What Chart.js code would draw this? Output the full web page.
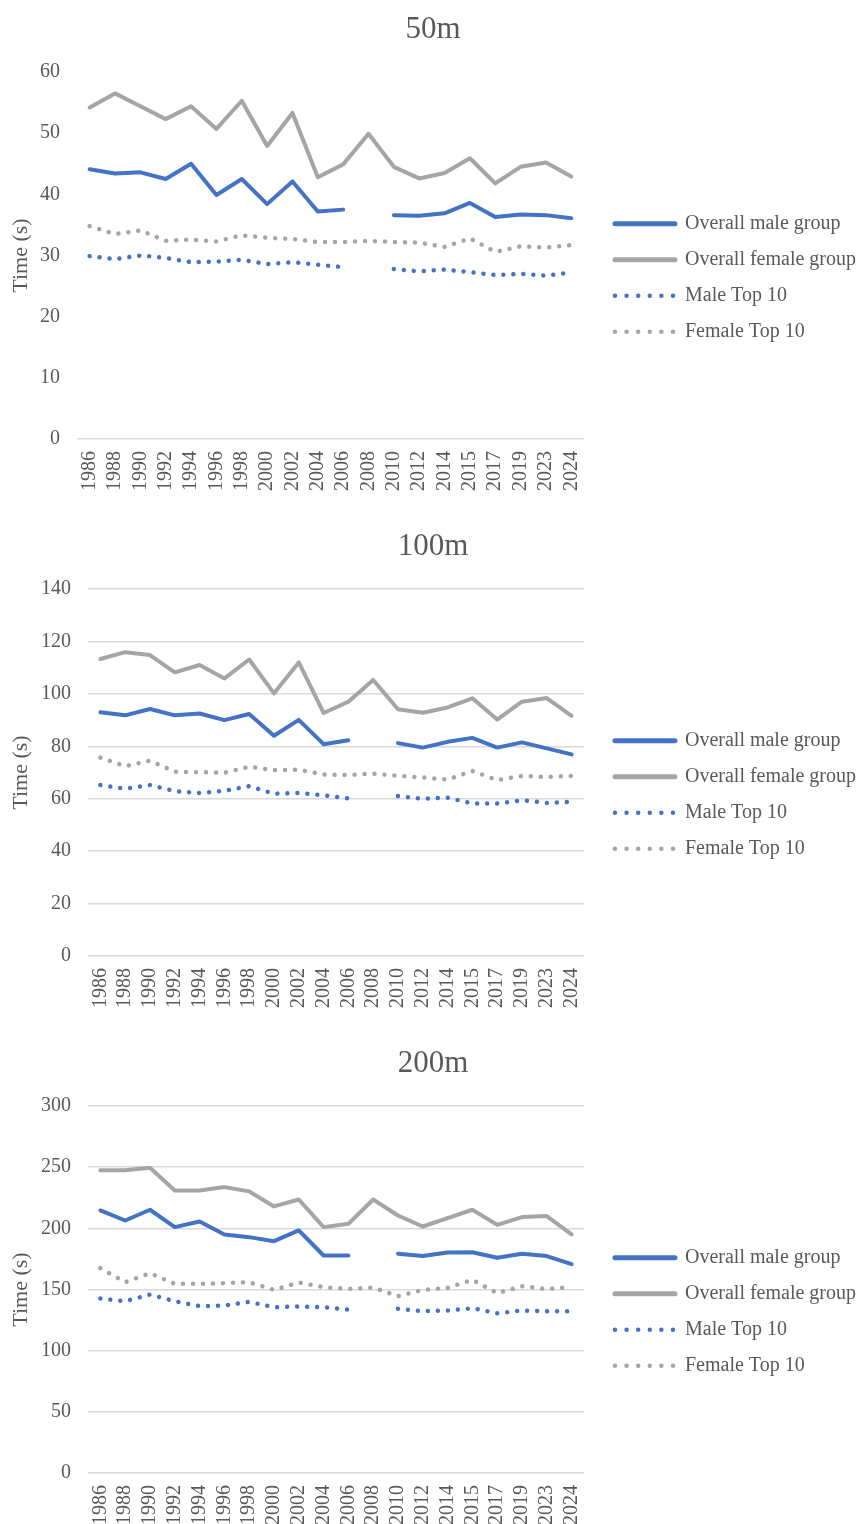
<!DOCTYPE html>
<html>
<head>
<meta charset="utf-8">
<title>Swimming times by year</title>
<script src="https://cdn.jsdelivr.net/npm/chart.js@4.4.1/dist/chart.umd.min.js"></script>
<style>
  html, body { margin: 0; padding: 0; background: #ffffff; overflow: hidden; }
  .panel { width: 864px; height: 517px; position: relative; }
  canvas { display: block; }
</style>
</head>
<body>
<div class="panel"><canvas id="chart50" width="864" height="517"></canvas></div>
<div class="panel"><canvas id="chart100" width="864" height="517"></canvas></div>
<div class="panel"><canvas id="chart200" width="864" height="517"></canvas></div>
<script>
// Competition years (x axis)
const years = ['1986', '1988', '1990', '1992', '1994', '1996', '1998', '2000', '2002', '2004',
               '2006', '2008', '2010', '2012', '2014', '2015', '2017', '2019', '2023', '2024'];

const seriesNames = ['Overall male group', 'Overall female group', 'Male Top 10', 'Female Top 10'];

// 50m times (s); no male results in 2008
const male50       = [44.1, 43.4, 43.6, 42.5, 45.0, 39.9, 42.5, 38.4, 42.1, 37.2, 37.5, null, 36.6, 36.5, 36.9, 38.6, 36.3, 36.7, 36.6, 36.1];
const female50     = [54.2, 56.5, 54.4, 52.3, 54.4, 50.7, 55.3, 47.9, 53.3, 42.8, 44.9, 49.9, 44.5, 42.6, 43.5, 45.9, 41.8, 44.5, 45.2, 42.9];
const maleTop50    = [29.9, 29.4, 30.0, 29.6, 28.9, 29.0, 29.3, 28.6, 28.9, 28.5, 28.1, null, 27.8, 27.4, 27.7, 27.3, 26.8, 27.0, 26.7, 27.2];
const femaleTop50  = [34.8, 33.5, 34.1, 32.4, 32.6, 32.3, 33.3, 32.9, 32.7, 32.2, 32.2, 32.4, 32.2, 32.1, 31.4, 32.8, 30.6, 31.5, 31.3, 31.7];

// 100m times (s)
const male100      = [93.0, 91.8, 94.2, 91.8, 92.5, 90.0, 92.3, 84.0, 90.1, 80.8, 82.3, null, 81.2, 79.5, 81.7, 83.2, 79.5, 81.5, 79.2, 76.9];
const female100    = [113.3, 115.9, 114.8, 108.2, 111.0, 105.9, 113.1, 100.2, 112.0, 92.7, 97.0, 105.3, 94.1, 92.8, 94.8, 98.3, 90.2, 97.0, 98.4, 91.6];
const maleTop100   = [65.2, 63.8, 65.2, 62.9, 62.2, 63.0, 64.8, 61.9, 62.2, 61.3, 60.1, null, 61.0, 60.0, 60.4, 58.2, 58.2, 59.4, 58.4, 58.8];
const femaleTop100 = [75.7, 72.4, 74.5, 70.3, 70.1, 69.9, 72.2, 70.9, 71.1, 69.2, 69.0, 69.6, 68.7, 68.1, 67.3, 70.6, 67.1, 68.7, 68.3, 68.7];

// 200m times (s)
const male200      = [214.6, 206.4, 215.2, 201.0, 205.6, 195.0, 192.8, 189.5, 198.3, 177.8, 177.8, null, 179.2, 177.3, 180.3, 180.5, 175.9, 179.2, 177.3, 170.7];
const female200    = [247.4, 247.4, 249.5, 231.0, 231.0, 233.7, 230.2, 217.9, 223.6, 201.0, 203.7, 223.6, 210.5, 201.5, 208.4, 215.2, 202.9, 209.2, 210.0, 195.0];
const maleTop200   = [142.6, 140.4, 145.9, 140.4, 136.4, 136.9, 139.9, 135.5, 136.1, 135.5, 133.6, null, 134.2, 132.3, 132.8, 134.7, 130.6, 132.8, 132.3, 132.3];
const femaleTop200 = [167.4, 156.0, 163.3, 154.6, 154.6, 155.2, 156.0, 149.7, 155.7, 151.9, 150.5, 151.6, 144.5, 149.7, 151.3, 157.9, 147.0, 152.7, 150.5, 151.9];

const BLUE = '#4472C4';
const GREY = '#A5A5A5';
const TEXT = '#595959';
const GRID = '#D9D9D9';
const SERIF = "'Liberation Serif', 'Times New Roman', serif";

function solid(label, data, color) {
  return {
    label, data, borderColor: color, backgroundColor: color,
    borderWidth: 4, pointRadius: 0, tension: 0, spanGaps: false,
    borderCapStyle: 'round', borderJoinStyle: 'round'
  };
}

function dotted(label, data, color) {
  return {
    label, data, borderColor: color, backgroundColor: color,
    borderWidth: 4.5, pointRadius: 0, tension: 0, spanGaps: false,
    borderDash: [0.001, 10], borderCapStyle: 'round', borderJoinStyle: 'round'
  };
}

// legend entries: a short line sample in each series' colour and dash
function legendItems(chart) {
  return chart.data.datasets.map((ds, i) => ({
    text: ds.label,
    datasetIndex: i,
    fillStyle: ds.borderColor,
    strokeStyle: ds.borderColor,
    fontColor: TEXT,
    lineWidth: ds.borderDash ? 4.5 : 5,
    lineDash: ds.borderDash ? [0.001, 11.6] : [],
    lineCap: 'round',
    pointStyle: 'line',
    hidden: false
  }));
}

function buildChart(canvasId, title, male, female, maleTop, femaleTop, yMax, yStep, fullGrid, yAxisWidth) {
  return new Chart(document.getElementById(canvasId), {
    type: 'line',
    data: {
      labels: years,
      datasets: [
        solid(seriesNames[0], male, BLUE),
        solid(seriesNames[1], female, GREY),
        dotted(seriesNames[2], maleTop, BLUE),
        dotted(seriesNames[3], femaleTop, GREY)
      ]
    },
    options: {
      responsive: false,
      animation: false,
      events: [],
      layout: { padding: { top: 0, left: 0, right: -2, bottom: 14 } },
      plugins: {
        title: {
          display: true, text: title, color: TEXT,
          font: { family: SERIF, size: 31, weight: 'normal' },
          padding: { top: 11.4, bottom: 23.4 }
        },
        legend: {
          position: 'right', align: 'center', fullSize: false, maxWidth: 320,
          title: { display: true, text: '', font: { size: 12 }, padding: { top: 30, bottom: 0 } },
          labels: {
            usePointStyle: true, pointStyle: 'line', pointStyleWidth: 60,
            padding: 16, color: TEXT,
            font: { family: SERIF, size: 20 },
            generateLabels: legendItems
          }
        },
        tooltip: { enabled: false }
      },
      scales: {
        x: {
          offset: true,
          grid: { display: false, drawTicks: false },
          border: { display: false },
          ticks: {
            autoSkip: false, minRotation: 90, maxRotation: 90, padding: 12,
            color: TEXT, font: { family: SERIF, size: 20 }
          }
        },
        y: {
          min: 0, max: yMax,
          grid: {
            drawTicks: false, lineWidth: 1.5,
            color: ctx => (fullGrid || ctx.tick.value === 0) ? GRID : 'rgba(0,0,0,0)'
          },
          border: { display: false },
          ticks: { stepSize: yStep, padding: 17, color: TEXT, font: { family: SERIF, size: 20 } },
          title: {
            display: true, text: 'Time (s)', color: TEXT,
            font: { family: SERIF, size: 22 }, padding: { top: 8, bottom: 0 }
          },
          afterFit(scale) { scale.width = yAxisWidth; }
        },
        // empty right-hand axis that keeps the legend clear of the plot
        legendGap: {
          position: 'right', display: true,
          grid: { display: false, drawTicks: false },
          border: { display: false },
          ticks: { display: false },
          afterFit(scale) { scale.width = 15; }
        }
      }
    }
  });
}

buildChart('chart50', '50m', male50, female50, maleTop50, femaleTop50, 60, 10, false, 77);
buildChart('chart100', '100m', male100, female100, maleTop100, femaleTop100, 140, 20, true, 88);
buildChart('chart200', '200m', male200, female200, maleTop200, femaleTop200, 300, 50, true, 88);
</script>
</body>
</html>
